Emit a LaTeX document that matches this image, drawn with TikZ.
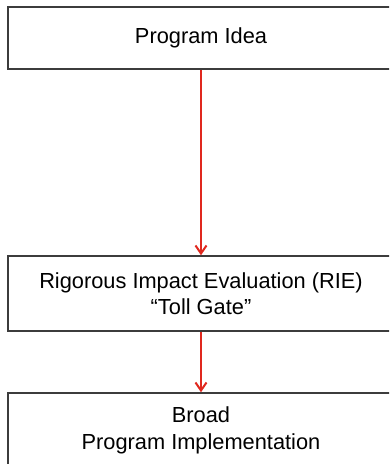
\documentclass[tikz,border=0pt]{standalone}
\usepackage{fontspec}
\setmainfont{Liberation Sans}
\usetikzlibrary{arrows.meta}
\definecolor{boxgray}{HTML}{3C3C3C}
\definecolor{flowred}{HTML}{E0281E}
\begin{document}
\begin{tikzpicture}[x=1pt,y=-1pt,
  stagebox/.style={draw=boxgray, line width=1.5pt, fill=white,
    minimum width=386pt, minimum height=#1, inner sep=0pt,
    align=center, font=\fontsize{21.8pt}{26.5pt}\selectfont},
  flow/.style={draw=flowred, line width=2pt,
    -{Straight Barb[length=8pt,width=11pt,line width=2pt]}}]
  \useasboundingbox (0,0) rectangle (389,464);
  \clip (0,0) rectangle (389,464);

  % the three stages, top to bottom
  \node[stagebox=62pt] (idea) at (201,38) {Program Idea};
  \node[stagebox=75pt] (rie) at (201,293.5)
    {Rigorous Impact Evaluation (RIE)\\``Toll Gate''};
  \node[stagebox=75pt] (impl) at (201,430.5)
    {Broad\\Program Implementation};

  % flow between the stages
  \draw[flow] (idea.south) -- (rie.north);
  \draw[flow] (rie.south) -- (impl.north);
\end{tikzpicture}
\end{document}
